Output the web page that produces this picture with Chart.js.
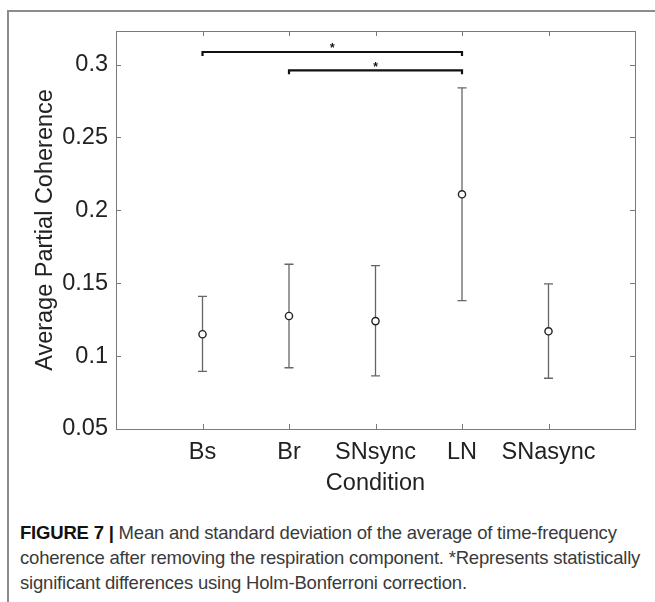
<!DOCTYPE html>
<html>
<head>
<meta charset="utf-8">
<script src="https://cdn.jsdelivr.net/npm/chart.js@4"></script>
<style>
  html, body { margin: 0; padding: 0; background: #fff; }
  #marco { position: absolute; left: 7px; top: 10px; width: 660px; height: 600px;
           border-left: 2px solid #8c8c8c; border-top: 2px solid #8c8c8c; box-sizing: border-box; }
  #lienzo { position: absolute; left: 0; top: 0; }
  #pie { position: absolute; left: 20px; top: 520px; font-family: "Liberation Sans", Arial, sans-serif;
         font-size: 18.5px; line-height: 25px; color: #3a3a3a; white-space: nowrap; letter-spacing: -0.2px; }
  #pie b { color: #111; }
</style>
</head>
<body>
<div id="marco"></div>
<canvas id="lienzo" width="655" height="504"></canvas>
<div id="pie"><b>FIGURE 7 |</b> Mean and standard deviation of the average of time-frequency<br>coherence after removing the respiration component. *Represents statistically<br>significant differences using Holm-Bonferroni correction.</div>
<script>
// Datos
const condiciones = ['Bs', 'Br', 'SNsync', 'LN', 'SNasync'];
const medias = [0.115, 0.1275, 0.124, 0.211, 0.117];
const limiteSup = [0.141, 0.163, 0.162, 0.284, 0.1495];
const limiteInf = [0.0895, 0.092, 0.0865, 0.138, 0.0848];
const marcasY = [0.05, 0.1, 0.15, 0.2, 0.25, 0.3];
// Pares con diferencias significativas (índices) y altura de cada corchete
const paresSig = [[0, 3], [1, 3]];
const alturaSig = [0.3086, 0.296];

const puntos = medias.map((m, i) => ({ x: i + 1, y: m }));
const fuente = '"Liberation Sans", Arial, sans-serif';

// Plugin: barras de error, caja del gráfico, marcas internas y corchetes
const extras = {
  id: 'extras',
  beforeDatasetsDraw(chart) {
    const ctx = chart.ctx;
    const x = chart.scales.x, y = chart.scales.y;
    ctx.save();
    ctx.strokeStyle = '#666';
    ctx.lineWidth = 1.3;
    medias.forEach((m, i) => {
      const px = x.getPixelForValue(i + 1);
      const pt = y.getPixelForValue(limiteSup[i]);
      const pb = y.getPixelForValue(limiteInf[i]);
      ctx.beginPath();
      ctx.moveTo(px, pt); ctx.lineTo(px, pb);
      ctx.moveTo(px - 4.5, pt); ctx.lineTo(px + 4.5, pt);
      ctx.moveTo(px - 4.5, pb); ctx.lineTo(px + 4.5, pb);
      ctx.stroke();
    });
    ctx.restore();
  },
  afterDraw(chart) {
    const ctx = chart.ctx;
    const a = chart.chartArea;
    const x = chart.scales.x, y = chart.scales.y;
    ctx.save();
    // caja
    ctx.strokeStyle = '#7a7a7a';
    ctx.lineWidth = 1;
    ctx.strokeRect(a.left + 0.5, a.top + 0.5, a.right - a.left, a.bottom - a.top);
    // marcas hacia dentro
    ctx.beginPath();
    x.ticks.forEach(t => {
      const px = Math.round(x.getPixelForValue(t.value)) + 0.5;
      ctx.moveTo(px, a.bottom); ctx.lineTo(px, a.bottom - 5);
      ctx.moveTo(px, a.top); ctx.lineTo(px, a.top + 5);
    });
    y.ticks.forEach(t => {
      const py = Math.round(y.getPixelForValue(t.value)) + 0.5;
      ctx.moveTo(a.left, py); ctx.lineTo(a.left + 5, py);
      ctx.moveTo(a.right, py); ctx.lineTo(a.right - 5, py);
    });
    ctx.stroke();
    // corchetes de significancia
    ctx.strokeStyle = '#111';
    ctx.fillStyle = '#111';
    ctx.lineWidth = 2.2;
    ctx.font = 'bold 12px ' + fuente;
    ctx.textAlign = 'center';
    ctx.textBaseline = 'middle';
    paresSig.forEach((par, k) => {
      const x1 = x.getPixelForValue(par[0] + 1);
      const x2 = x.getPixelForValue(par[1] + 1);
      const py = y.getPixelForValue(alturaSig[k]);
      ctx.beginPath();
      ctx.moveTo(x1, py + 4); ctx.lineTo(x1, py); ctx.lineTo(x2, py); ctx.lineTo(x2, py + 4);
      ctx.stroke();
      ctx.fillText('*', (x1 + x2) / 2, py - 3);
    });
    ctx.restore();
  }
};

const ctx = document.getElementById('lienzo').getContext('2d');
new Chart(ctx, {
  type: 'scatter',
  data: {
    datasets: [{
      data: puntos,
      pointStyle: 'circle',
      pointRadius: 3.6,
      pointBorderWidth: 1.4,
      pointBorderColor: '#222',
      pointBackgroundColor: '#fff'
    }]
  },
  options: {
    responsive: false,
    animation: false,
    events: [],
    layout: { padding: { left: 31, top: 31, right: 20, bottom: 6 } },
    plugins: { legend: { display: false }, tooltip: { enabled: false } },
    scales: {
      x: {
        type: 'linear', min: 0, max: 6,
        afterFit(s) { s.height = 69; },
        afterBuildTicks(s) { s.ticks = condiciones.map((c, i) => ({ value: i + 1 })); },
        grid: { display: false, drawTicks: false },
        border: { display: false },
        ticks: {
          padding: 9, color: '#222', autoSkip: false, maxRotation: 0,
          font: { family: fuente, size: 23.5 },
          callback: v => condiciones[v - 1]
        },
        title: { display: true, text: 'Condition', color: '#222', padding: 0,
                 font: { family: fuente, size: 23.5 } }
      },
      y: {
        min: 0.05, max: 0.323,
        afterFit(s) { s.width = 85; },
        afterBuildTicks(s) { s.ticks = marcasY.map(v => ({ value: v })); },
        grid: { display: false, drawTicks: false },
        border: { display: false },
        ticks: {
          padding: 8, color: '#222',
          font: { family: fuente, size: 23.5 },
          callback: v => String(+v.toFixed(2))
        },
        title: { display: true, text: 'Average Partial Coherence', color: '#222', padding: 0,
                 font: { family: fuente, size: 23.5 } }
      }
    }
  },
  plugins: [extras]
});
</script>
</body>
</html>
